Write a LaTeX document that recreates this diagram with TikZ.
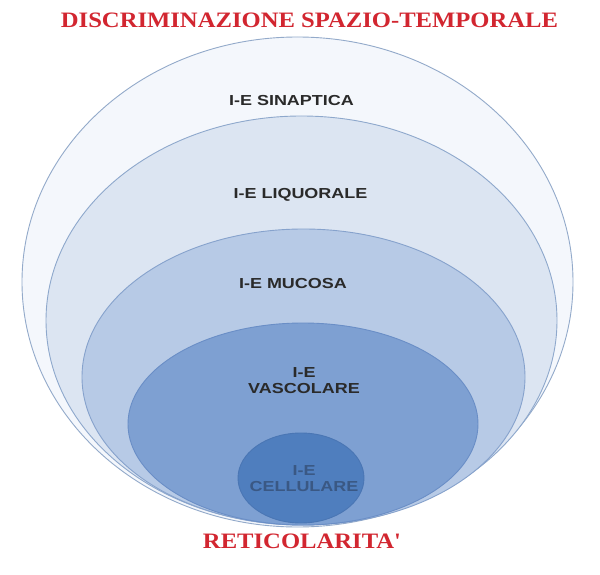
\documentclass[tikz,border=0pt]{standalone}
\usepackage{fontspec}
\setmainfont{Liberation Serif}
\setsansfont{Liberation Sans}
\definecolor{titlered}{HTML}{D22630}
\definecolor{txtgray}{HTML}{2A2A2A}
\definecolor{celltxt}{HTML}{3A5884}
\definecolor{fillA}{HTML}{F4F7FC}
\definecolor{fillB}{HTML}{DCE5F2}
\definecolor{fillC}{HTML}{B7CAE6}
\definecolor{fillD}{HTML}{7EA0D2}
\definecolor{fillE}{HTML}{4F7EBE}
\definecolor{lineA}{HTML}{93AACA}
\definecolor{lineB}{HTML}{8EA8CC}
\definecolor{lineC}{HTML}{86A2CC}
\definecolor{lineD}{HTML}{6A8EC6}
\definecolor{lineE}{HTML}{4A76B4}
\tikzset{
  titletext/.style={text=titlered, font=\fontsize{22}{24}\selectfont\bfseries, inner sep=0pt, xscale=1.12},
  layertext/.style={text=txtgray, font=\fontsize{14.5}{16}\selectfont\sffamily\bfseries, align=center, inner sep=0pt, xscale=1.24},
  celltext/.style={text=celltxt, font=\fontsize{14.5}{16}\selectfont\sffamily\bfseries, align=center, inner sep=0pt, xscale=1.24},
  layer/.style={line width=0.9pt}
}
\begin{document}
\begin{tikzpicture}[x=1pt,y=-1pt]
\useasboundingbox (0,0) rectangle (600,575);
\fill[white] (0,0) rectangle (600,575);
% nested ellipses
\draw[layer, fill=fillA, draw=lineA] (297.5,282) ellipse [x radius=275.5, y radius=245];
\draw[layer, fill=fillB, draw=lineB] (301.5,320.5) ellipse [x radius=255.5, y radius=204.5];
\draw[layer, fill=fillC, draw=lineC] (303.5,377) ellipse [x radius=221.5, y radius=148];
\draw[layer, fill=fillD, draw=lineD] (303,424) ellipse [x radius=175, y radius=101];
\draw[layer, fill=fillE, draw=lineE] (301,478) ellipse [x radius=63, y radius=45];
% texts
\node[titletext] (title) at (309.5,20) {DISCRIMINAZIONE SPAZIO-TEMPORALE};
\node[layertext] (sin) at (291.5,101) {I-E SINAPTICA};
\node[layertext] (liq) at (300.5,195) {I-E LIQUORALE};
\node[layertext] (muc) at (293,284) {I-E MUCOSA};
\node[layertext] (vas) at (304,381) {I-E\\VASCOLARE};
\node[celltext] (cel) at (304,479) {I-E\\CELLULARE};
\node[titletext] (ret) at (302,541) {RETICOLARITA\textquotesingle};
\end{tikzpicture}
\end{document}
